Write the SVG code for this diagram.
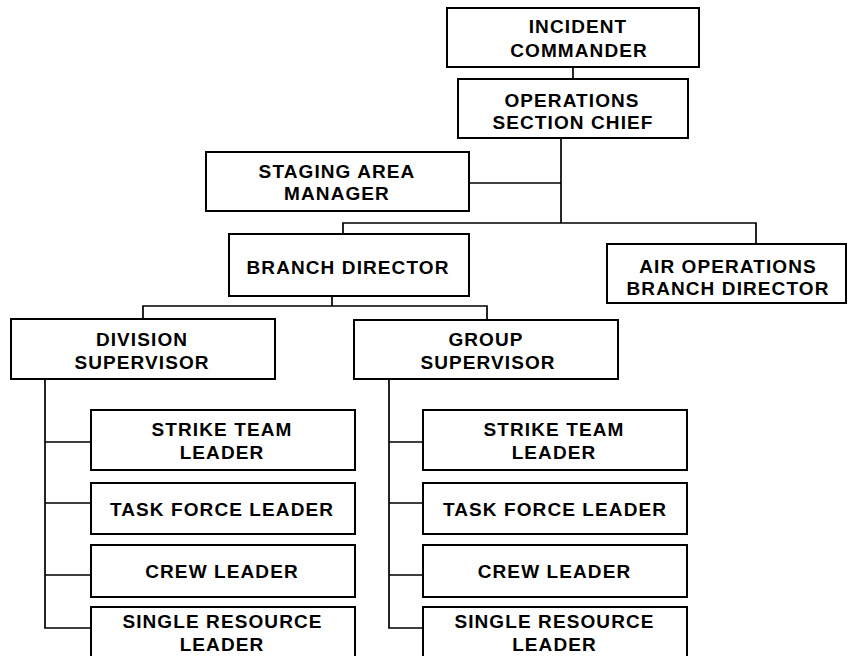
<svg xmlns="http://www.w3.org/2000/svg" width="851" height="656" viewBox="0 0 851 656">
  <style>
    .box { fill: #ffffff; stroke: #000000; stroke-width: 2; }
    .wire { fill: none; stroke: #000000; stroke-width: 1.7; }
    text { font-family: "Liberation Sans", Arial, sans-serif; font-weight: bold; font-size: 19px; letter-spacing: 1.1px; fill: #000000; text-anchor: middle; }
  </style>
  <rect x="0" y="0" width="851" height="656" fill="#ffffff"/>

  <!-- connectors -->
  <g id="connectors">
    <path class="wire" d="M573 67V79"/>
    <path class="wire" d="M561 138V223"/>
    <path class="wire" d="M469 183H561"/>
    <path class="wire" d="M343 234V223H756V244"/>
    <path class="wire" d="M332 296V306"/>
    <path class="wire" d="M143 319V306H487V320"/>
    <path class="wire" d="M45 379V628H91"/>
    <path class="wire" d="M45 442H91M45 503H91M45 575H91"/>
    <path class="wire" d="M389 379V628H423"/>
    <path class="wire" d="M389 442H423M389 503H423M389 575H423"/>
  </g>

  <!-- nodes -->
  <g id="incident-commander">
    <rect class="box" x="447" y="8" width="252" height="59"/>
    <text x="578" y="33">INCIDENT</text>
    <text x="579" y="57">COMMANDER</text>
  </g>
  <g id="operations-section-chief">
    <rect class="box" x="458" y="79" width="230" height="59"/>
    <text x="572" y="107">OPERATIONS</text>
    <text x="573" y="129">SECTION CHIEF</text>
  </g>
  <g id="staging-area-manager">
    <rect class="box" x="206" y="152" width="263" height="59"/>
    <text x="337" y="178">STAGING AREA</text>
    <text x="337" y="200">MANAGER</text>
  </g>
  <g id="branch-director">
    <rect class="box" x="229" y="234" width="240" height="62"/>
    <text x="348" y="274">BRANCH DIRECTOR</text>
  </g>
  <g id="air-operations-branch-director">
    <rect class="box" x="607" y="244" width="239" height="59"/>
    <text x="728" y="273">AIR OPERATIONS</text>
    <text x="728" y="295">BRANCH DIRECTOR</text>
  </g>
  <g id="division-supervisor">
    <rect class="box" x="11" y="319" width="264" height="60"/>
    <text x="142" y="345.5">DIVISION</text>
    <text x="142" y="369">SUPERVISOR</text>
  </g>
  <g id="group-supervisor">
    <rect class="box" x="354" y="320" width="264" height="59"/>
    <text x="486" y="345.5">GROUP</text>
    <text x="488" y="369">SUPERVISOR</text>
  </g>

  <g id="division-strike-team-leader">
    <rect class="box" x="91" y="410" width="264" height="60"/>
    <text x="222" y="436">STRIKE TEAM</text>
    <text x="222" y="459">LEADER</text>
  </g>
  <g id="division-task-force-leader">
    <rect class="box" x="91" y="483" width="264" height="51"/>
    <text x="222" y="516">TASK FORCE LEADER</text>
  </g>
  <g id="division-crew-leader">
    <rect class="box" x="91" y="545" width="264" height="52"/>
    <text x="222" y="578">CREW LEADER</text>
  </g>
  <g id="division-single-resource-leader">
    <rect class="box" x="91" y="607" width="264" height="60"/>
    <text x="222.5" y="627.5">SINGLE RESOURCE</text>
    <text x="222" y="650.5">LEADER</text>
  </g>

  <g id="group-strike-team-leader">
    <rect class="box" x="423" y="410" width="264" height="60"/>
    <text x="554" y="436">STRIKE TEAM</text>
    <text x="554" y="459">LEADER</text>
  </g>
  <g id="group-task-force-leader">
    <rect class="box" x="423" y="483" width="264" height="51"/>
    <text x="555" y="516">TASK FORCE LEADER</text>
  </g>
  <g id="group-crew-leader">
    <rect class="box" x="423" y="545" width="264" height="52"/>
    <text x="554.5" y="578">CREW LEADER</text>
  </g>
  <g id="group-single-resource-leader">
    <rect class="box" x="423" y="607" width="264" height="60"/>
    <text x="554.5" y="627.5">SINGLE RESOURCE</text>
    <text x="554.5" y="650.5">LEADER</text>
  </g>
</svg>
